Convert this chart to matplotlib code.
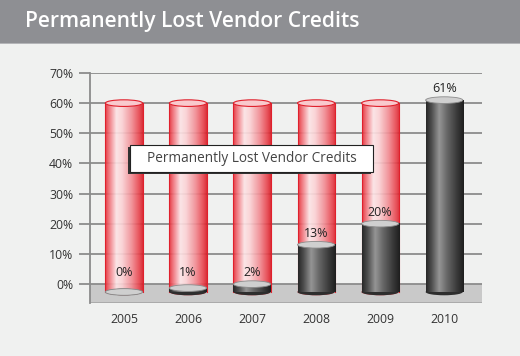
import matplotlib.pyplot as plt
import numpy as np
from matplotlib.colors import LinearSegmentedColormap
from matplotlib.patches import Ellipse, Rectangle

YEARS = ["2005", "2006", "2007", "2008", "2009", "2010"]
LOST_PCT = [0, 1, 2, 13, 20, 61]
CAPACITY_PCT = [60, 60, 60, 60, 60, None]
Y_TICKS = [0, 10, 20, 30, 40, 50, 60, 70]
TITLE = "Permanently Lost Vendor Credits"
LEGEND_TEXT = "Permanently Lost Vendor Credits"

BG = "#f0f1f0"
GRID = "#8c8c8c"

red_cmap = LinearSegmentedColormap.from_list("red", [
    (0.0, "#e42a34"), (0.1, "#f06a72"), (0.3, "#fde4e6"), (0.45, "#fbd2d5"),
    (0.7, "#f28d94"), (0.9, "#e8464f"), (1.0, "#d81e28")])
dark_cmap = LinearSegmentedColormap.from_list("dark", [
    (0.0, "#262626"), (0.15, "#4e4e4e"), (0.35, "#959595"), (0.55, "#686868"),
    (0.85, "#343434"), (1.0, "#1e1e1e")])
grad = np.linspace(0, 1, 256).reshape(1, -1)

fig = plt.figure(figsize=(5.2, 3.56), dpi=100, facecolor=BG)
W, H = 520, 356

# title banner
fig.patches.append(Rectangle((0, 1 - 43 / H), 1, 43 / H, transform=fig.transFigure,
                             facecolor="#8e8f93", edgecolor="none", zorder=0))
fig.patches.append(Rectangle((0, 1 - 44 / H), 1, 1.2 / H, transform=fig.transFigure,
                             facecolor="#b4b5b8", edgecolor="none", zorder=0))
fig.text(25 / W, 1 - 22 / H, TITLE, color="white", fontsize=15.1, family="Open Sans",
         weight="semibold", va="center", ha="left")

ax = fig.add_axes([90 / W, 1 - 303 / H, (482 - 90) / W, (303 - 73) / H])
ax.set_facecolor("none")
base = -2.67
floor_bottom = -6.33
bw = 0.58
eh = 2.2

# floor
ax.add_patch(Rectangle((-0.53, floor_bottom), 6.12, -floor_bottom, facecolor="#c9c9c9",
                       edgecolor="none", zorder=1))
ax.axhline(floor_bottom, color="#a5a5a5", lw=1.2, zorder=1)
for t in Y_TICKS:
    ax.axhline(t, color=GRID, lw=1.3, zorder=1.5)

for i, (val, cap) in enumerate(zip(LOST_PCT, CAPACITY_PCT)):
    x0, x1 = i - bw / 2, i + bw / 2
    fill_top = min(val, base + 1.3 * val)
    z = 3 + i * 0.01
    if cap is not None:
        ax.imshow(grad, extent=[x0, x1, base, cap], aspect="auto", cmap=red_cmap,
                  alpha=0.92, zorder=z)
        ax.plot([x0, x0], [base, cap], color="#e0202c", lw=0.8, zorder=z + 0.001)
        ax.plot([x1, x1], [base, cap], color="#e0202c", lw=0.8, zorder=z + 0.001)
        ax.add_patch(Ellipse((i, base), bw, eh, facecolor="#e8505a", edgecolor="none",
                             zorder=z - 0.001))
        ax.add_patch(Ellipse((i, cap), bw, eh, facecolor="#f9c9cd", edgecolor="#e0202c",
                             lw=0.8, zorder=z + 0.004))
    ax.add_patch(Ellipse((i, base), bw, eh, facecolor="#2e2e2e", edgecolor="none",
                         zorder=z + 0.001))
    if fill_top > base:
        ax.imshow(grad, extent=[x0, x1, base, fill_top], aspect="auto", cmap=dark_cmap,
                  zorder=z + 0.002)
    ax.add_patch(Ellipse((i, fill_top), bw, eh, facecolor="#cfcfcf", edgecolor="#8a8a8a",
                         lw=0.6, zorder=z + 0.003))
    ax.text(i, max(fill_top, 0) + 3.7, f"{val}%", ha="center", va="center",
            fontsize=9, family="Open Sans", color="#222222", zorder=6)

# legend box with shadow
lx0, lx1, ly0, ly1 = 130, 373, 145, 172
fig.patches.append(Rectangle(((lx0 - 2) / W, 1 - (ly1 + 2) / H), (lx1 - lx0) / W,
                             (ly1 - ly0) / H, transform=fig.transFigure,
                             facecolor="#333333", edgecolor="none", zorder=10))
fig.patches.append(Rectangle((lx0 / W, 1 - ly1 / H), (lx1 - lx0) / W, (ly1 - ly0) / H,
                             transform=fig.transFigure, facecolor="white",
                             edgecolor="#222222", lw=0.8, zorder=11))
fig.text((lx0 + lx1) / 2 / W, 1 - (ly0 + ly1) / 2 / H, LEGEND_TEXT, ha="center",
         va="center", fontsize=9.8, family="Open Sans", color="#444444", zorder=12)

ax.set_xlim(-0.53, 5.59)
ax.set_ylim(floor_bottom, 70)
ax.set_yticks(Y_TICKS)
ax.set_yticklabels([f"{t}%" for t in Y_TICKS], fontsize=8.8, family="Open Sans",
                   color="#333333")
ax.set_xticks(range(len(YEARS)))
ax.set_xticklabels(YEARS, fontsize=8.8, family="Open Sans", color="#333333")
ax.tick_params(axis="y", length=8, width=1.3, color=GRID, pad=4)
ax.tick_params(axis="x", length=0, pad=7)
for s in ["top", "right", "bottom"]:
    ax.spines[s].set_visible(False)
ax.spines["left"].set_color(GRID)
ax.spines["left"].set_linewidth(1.3)

fig.savefig("out.png", dpi=100, facecolor=BG)
